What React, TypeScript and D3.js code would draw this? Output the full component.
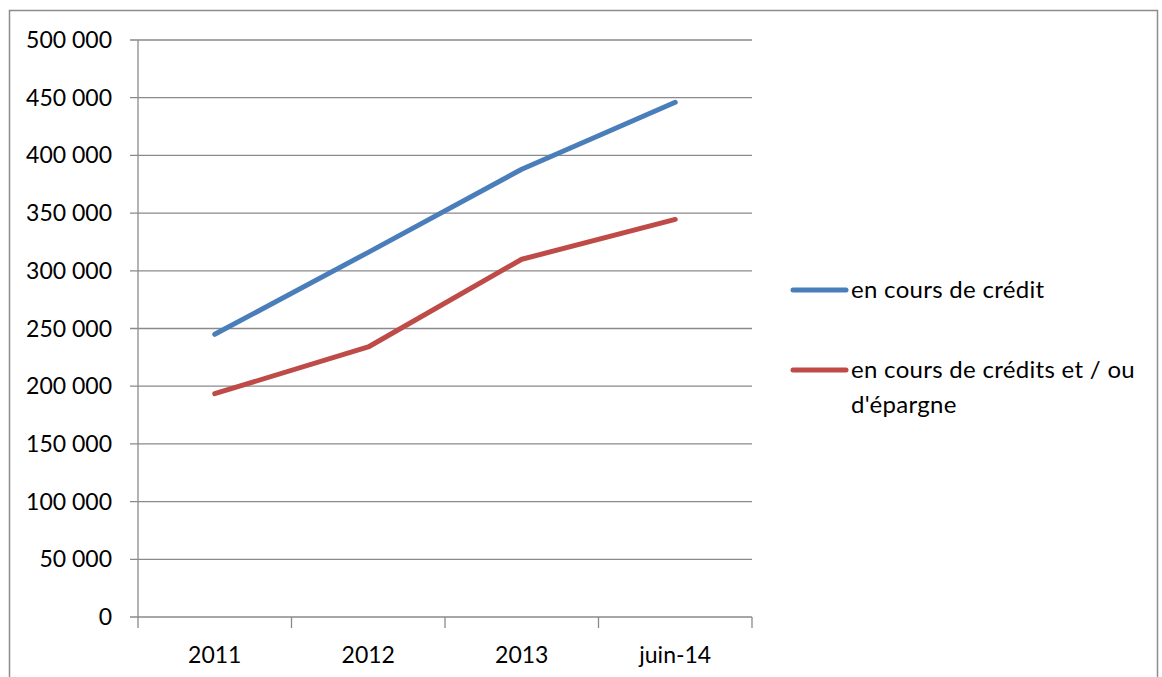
import React from "react";
import * as d3 from "d3";

const categories = ["2011", "2012", "2013", "juin-14"];
const seriesCredit = [245000, 316000, 388000, 446000];
const seriesCreditEpargne = [193500, 234000, 310000, 344500];
const yTicks = [0, 50000, 100000, 150000, 200000, 250000, 300000, 350000, 400000, 450000, 500000];
const seriesNames = ["en cours de crédit", "en cours de crédits et / ou", "d'épargne"];

const W = 1162;
const H = 677;
const plot = { left: 138, right: 752, top: 40, bottom: 617 };
const FONT = "Lato, 'Open Sans', sans-serif";
const GRID = "#8a8a8a";

export default function App() {
  const x = d3.scaleBand<string>().domain(categories).range([plot.left, plot.right]);
  const y = d3.scaleLinear().domain([0, 500000]).range([plot.bottom, plot.top]);
  const fmt = (v: number) => d3.format(",")(v).replace(/,/g, " ");
  const line = d3
    .line<number>()
    .x((_, i) => (x(categories[i]) as number) + x.bandwidth() / 2)
    .y((d) => y(d));

  const series = [
    { values: seriesCredit, color: "#4A7EBB" },
    { values: seriesCreditEpargne, color: "#BE4B48" },
  ];

  const boundaries = [...categories.map((c) => x(c) as number), plot.right];

  return (
    <svg width={W} height={H} style={{ position: "absolute", left: 0, top: 0 }} fontFamily={FONT}>
      <rect x={0} y={0} width={W} height={H} fill="#fff" />
      <rect x={9.5} y={10.5} width={1148} height={700} fill="none" stroke="#8c8c8c" strokeWidth={1.5} />
      {yTicks.map((t) => (
        <g key={t}>
          <line x1={plot.left - 8} x2={plot.right} y1={y(t)} y2={y(t)} stroke={GRID} strokeWidth={1.3} />
          <text x={112} y={y(t)} dy="0.35em" textAnchor="end" fontSize={23} fill="#000">
            {fmt(t)}
          </text>
        </g>
      ))}
      <line x1={plot.left} x2={plot.left} y1={plot.top} y2={plot.bottom} stroke={GRID} strokeWidth={1.3} />
      {boundaries.map((b, i) => (
        <line key={i} x1={b} x2={b} y1={plot.bottom} y2={plot.bottom + 11} stroke={GRID} strokeWidth={1.3} />
      ))}
      {categories.map((c) => (
        <text key={c} x={(x(c) as number) + x.bandwidth() / 2} y={655} dy="0.35em" textAnchor="middle" fontSize={23} fill="#000">
          {c}
        </text>
      ))}
      {series.map((s, i) => (
        <path key={i} d={line(s.values) || ""} fill="none" stroke={s.color} strokeWidth={5} strokeLinecap="round" strokeLinejoin="round" />
      ))}
      <g fontSize={24} letterSpacing={0.3} fill="#000">
        <line x1={793} x2={846} y1={290} y2={290} stroke="#4A7EBB" strokeWidth={5} strokeLinecap="round" />
        <text x={851} y={290} dy="0.35em">{seriesNames[0]}</text>
        <line x1={793} x2={846} y1={370} y2={370} stroke="#BE4B48" strokeWidth={5} strokeLinecap="round" />
        <text x={851} y={370} dy="0.35em">{seriesNames[1]}</text>
        <text x={851} y={405} dy="0.35em">{seriesNames[2]}</text>
      </g>
    </svg>
  );
}
